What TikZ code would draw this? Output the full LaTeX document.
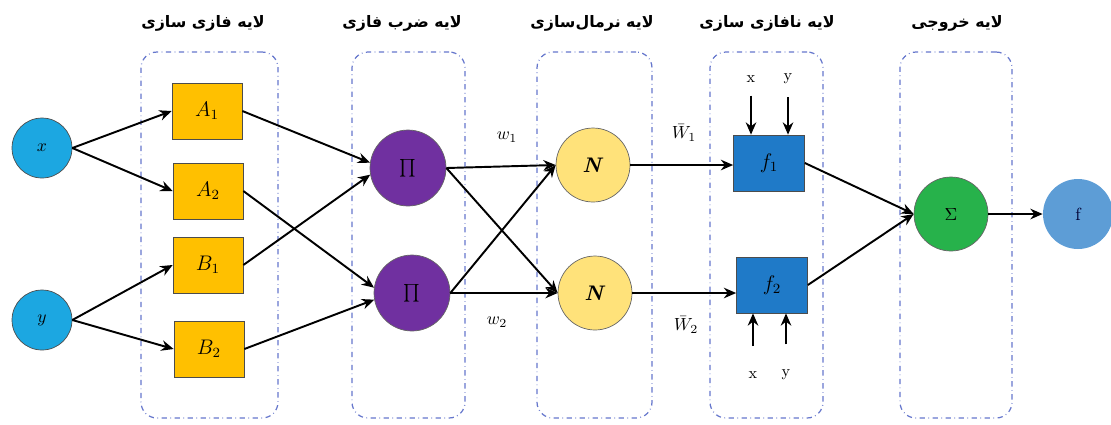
\documentclass[tikz,border=0pt]{standalone}
\usepackage{fontspec}
\usetikzlibrary{positioning,arrows.meta}
\newfontfamily\farsifont[Script=Arabic]{DejaVu Sans}
\TeXXeTstate=1
\definecolor{incol}{HTML}{1CA7E1}
\definecolor{mfcol}{HTML}{FFC000}
\definecolor{prodcol}{HTML}{7030A0}
\definecolor{normcol}{HTML}{FFE27A}
\definecolor{rulecol}{HTML}{1F7AC8}
\definecolor{sumcol}{HTML}{27B24B}
\definecolor{outcol}{HTML}{5D9DD6}
\definecolor{layercol}{HTML}{6677CC}
\tikzset{in node/.style={circle,fill=incol,draw=black!70,minimum size=1.2cm,inner sep=0pt},
	mf node/.style={rectangle,fill=mfcol,draw=black!70,minimum width=1.4cm,minimum height=1.12cm,inner sep=0pt,font=\large},
	prod node/.style={circle,fill=prodcol,draw=black!60,minimum size=1.52cm,inner sep=0pt,font=\large},
	norm node/.style={circle,fill=normcol,draw=black!60,minimum size=1.48cm,inner sep=0pt,font=\large},
	rule node/.style={rectangle,fill=rulecol,draw=black!70,minimum width=1.42cm,minimum height=1.12cm,inner sep=0pt,font=\large},
	sum node/.style={circle,fill=sumcol,draw=black!60,minimum size=1.48cm,inner sep=0pt},
	out node/.style={circle,fill=outcol,minimum size=1.4cm,inner sep=0pt,text=black!80!blue},
	layer/.style={draw=layercol,dash dot,line width=0.7pt,rounded corners=9pt,minimum height=7.32cm,inner sep=0pt},
	layer title/.style={font=\farsifont\bfseries\fontsize{9}{11}\selectfont},
	conn/.style={-{Stealth[length=7pt,width=6pt]},line width=1.1pt},
}
\begin{document}
\begin{tikzpicture}[x=0.02cm,y=-0.02cm]
	\useasboundingbox (0,0) rectangle (1111,424);
	
	% layers
	\node[layer,minimum width=2.74cm] (L1) at (209.5,235) {};
	\node[layer,minimum width=2.26cm] (L2) at (408.5,235) {};
	\node[layer,minimum width=2.30cm] (L3) at (594.5,235) {};
	\node[layer,minimum width=2.26cm] (L4) at (766.5,235) {};
	\node[layer,minimum width=2.24cm] (L5) at (956,235) {};
	
	\node[layer title] (T1) at (203,23) {\beginR لایه فازی سازی\endR};
	\node[layer title] (T2) at (402,23) {\beginR لایه ضرب فازی\endR};
	\node[layer title] (T3) at (592,23) {\beginR لایه نرمال‌سازی\endR};
	\node[layer title] (T4) at (767,23) {\beginR لایه نافازی سازی\endR};
	\node[layer title] (T5) at (957,23) {\beginR لایه خروجی\endR};
	
	% nodes
	\node[in node] (X) at (42,148) {$x$};
	\node[in node] (Y) at (42,320) {$y$};
	
	\node[mf node] (A1) at (207,111) {$A_1$};
	\node[mf node] (A2) at (208,191) {$A_2$};
	\node[mf node] (B1) at (208,265) {$B_1$};
	\node[mf node] (B2) at (209,349) {$B_2$};
	
	\node[prod node] (P1) at (408,168) {$\prod$};
	\node[prod node] (P2) at (412,293) {$\prod$};
	
	\node[norm node] (N1) at (593,165) {\textbf{\itshape N}};
	\node[norm node] (N2) at (595,293) {\textbf{\itshape N}};
	
	\node[rule node] (F1) at (769,163) {$f_1$};
	\node[rule node] (F2) at (772,285) {$f_2$};
	
	\node[sum node] (S) at (951,214) {$\Sigma$};
	\node[out node] (O) at (1078,214) {f};
	
	% texts
	\node (w1) at (507,137) {$w_1$};
	\node (w2) at (497,322) {$w_2$};
	\node (W1) at (684,133) {$\bar{W}_1$};
	\node (W2) at (686,325) {$\bar{W}_2$};
	
	\node[font=\small] (x1) at (751,79) {x};
	\node[font=\small] (y1) at (788,79) {y};
	\node[font=\small] (x2) at (753,375) {x};
	\node[font=\small] (y2) at (786,375) {y};
	
	\path[conn]
	(X.east) edge (A1.west)
	(X.east) edge (A2.west)
	(Y.east) edge (B1.west)
	(Y.east) edge (B2.west)
	(A1.east) edge (P1.172)
	(B1.east) edge (P1.190)
	(A2.east) edge (P2.172)
	(B2.east) edge (P2.190)
	(P1.east) edge (N1.west)
	(P1.east) edge (N2.west)
	(P2.east) edge (N1.west)
	(P2.east) edge (N2.west)
	(N1.east) edge (N1.east -| F1.west)
	(N2.east) edge (N2.east -| F2.west)
	(F1.east) edge (S.west)
	(F2.east) edge (S.west)
	(S.east) edge (O.west)
	([yshift=-4pt]x1.south) edge (x1 |- F1.north)
	([yshift=-4pt]y1.south) edge (y1 |- F1.north)
	([yshift=11pt]x2.north) edge (x2 |- F2.south)
	([yshift=11pt]y2.north) edge (y2 |- F2.south);
	
\end{tikzpicture}
\end{document}
